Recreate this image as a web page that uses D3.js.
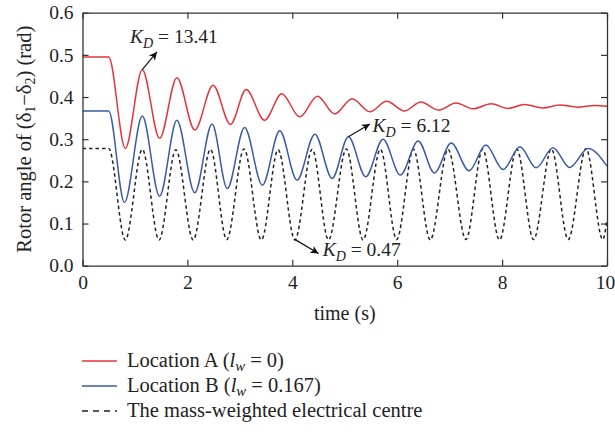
<!DOCTYPE html>
<html>
<head>
<meta charset="utf-8">
<script src="https://cdn.jsdelivr.net/npm/d3@7"></script>
<style>
  html, body { margin: 0; padding: 0; background: #fff; }
  svg { display: block; }
  text { font-family: "Liberation Serif", "Times New Roman", serif; fill: #222; }
</style>
</head>
<body>
<svg id="chart" width="615" height="432"></svg>
<script>
// ---------------- data ----------------
const xTicks = [0, 2, 4, 6, 8, 10];
const yTicks = [0.0, 0.1, 0.2, 0.3, 0.4, 0.5, 0.6];

const seriesNames = ["Location A", "Location B", "The mass-weighted electrical centre"];

const timeA = [0, 0.5, 0.816, 1.14, 1.47, 1.80, 2.14, 2.49, 2.82, 3.12, 3.47, 3.80, 4.14, 4.48, 4.81, 5.14, 5.48, 5.80, 6.14, 6.45, 6.79, 7.12, 7.45, 7.79, 8.11, 8.43, 8.78, 9.10, 9.44, 9.77, 10];
const valueA = [0.495, 0.495, 0.278, 0.465, 0.302, 0.446, 0.322, 0.428, 0.335, 0.418, 0.345, 0.408, 0.353, 0.402, 0.360, 0.396, 0.365, 0.390, 0.367, 0.388, 0.369, 0.386, 0.372, 0.384, 0.373, 0.382, 0.374, 0.381, 0.376, 0.380, 0.378];

const timeB = [0, 0.5, 0.80, 1.14, 1.47, 1.80, 2.14, 2.47, 2.76, 3.09, 3.43, 3.76, 4.09, 4.43, 4.76, 5.07, 5.40, 5.73, 6.06, 6.40, 6.71, 7.03, 7.37, 7.69, 8.02, 8.34, 8.65, 8.97, 9.29, 9.64, 10];
const valueB = [0.367, 0.367, 0.150, 0.355, 0.165, 0.345, 0.173, 0.336, 0.183, 0.328, 0.191, 0.320, 0.203, 0.312, 0.207, 0.306, 0.211, 0.300, 0.215, 0.296, 0.220, 0.291, 0.225, 0.286, 0.228, 0.282, 0.232, 0.280, 0.233, 0.278, 0.236];

const timeC = [0, 0.5, 0.816, 1.14, 1.46, 1.78, 2.11, 2.44, 2.75, 3.08, 3.41, 3.73, 4.05, 4.38, 4.69, 5.03, 5.35, 5.68, 5.99, 6.31, 6.63, 6.97, 7.31, 7.63, 7.95, 8.28, 8.60, 8.94, 9.26, 9.60, 9.92, 10];
const valueC = [0.278, 0.278, 0.061, 0.276, 0.061, 0.275, 0.061, 0.276, 0.062, 0.277, 0.061, 0.275, 0.061, 0.276, 0.061, 0.277, 0.061, 0.276, 0.062, 0.276, 0.061, 0.276, 0.062, 0.276, 0.061, 0.277, 0.062, 0.277, 0.062, 0.278, 0.062, 0.11];

// annotations: arrow start point, arrow tip, text anchor (data units)
const annoLabel = ["13.41", "6.12", "0.47"];
const annoFrom = [[1.14, 0.465], [5.07, 0.306], [4.04, 0.063]];
const annoTip  = [[1.42, 0.507], [5.48, 0.336], [4.50, 0.029]];
const annoText = [[0.906, 0.528], [5.53, 0.317], [4.58, 0.023]];

// ---------------- layout ----------------
const svg = d3.select("#chart");
const L = 82.5, R = 607, T = 12.7, B = 265.7;
const x = d3.scaleLinear().domain([0, 10]).range([L, R]);
const y = d3.scaleLinear().domain([0, 0.6]).range([B, T]);
const FS = 19.5;
const axisColor = "#333";
const colors = ["#e3363b", "#3b5ba5", "#222"];

// defs: arrow marker
svg.append("defs").append("marker")
  .attr("id", "arrow").attr("viewBox", "0 0 10 10")
  .attr("refX", 10).attr("refY", 5)
  .attr("markerWidth", 11).attr("markerHeight", 8)
  .attr("markerUnits", "userSpaceOnUse")
  .attr("orient", "auto")
  .append("path").attr("d", "M0,0 L10,5 L0,10 L2.5,5 Z").attr("fill", "#111");

// clip
svg.append("clipPath").attr("id", "clip").append("rect")
  .attr("x", L).attr("y", T).attr("width", R - L).attr("height", B - T);

// series
const line = d3.line().x(d => x(d[0])).y(d => y(d[1])).curve(d3.curveMonotoneX);
const series = [
  { t: timeA, v: valueA, color: colors[0], dash: null },
  { t: timeB, v: valueB, color: colors[1], dash: null },
  { t: timeC, v: valueC, color: colors[2], dash: "3.5,3" }
];
const gLines = svg.append("g").attr("clip-path", "url(#clip)");
series.slice().reverse().forEach(s => {
  gLines.append("path")
    .datum(s.t.map((t, i) => [t, s.v[i]]))
    .attr("d", line)
    .attr("fill", "none")
    .attr("stroke", s.color)
    .attr("stroke-width", 1.5)
    .attr("stroke-dasharray", s.dash);
});

// axes
function styleAxis(g) {
  g.select(".domain").attr("stroke", axisColor).attr("stroke-width", 1.3);
  g.selectAll(".tick line").attr("stroke", axisColor).attr("stroke-width", 1.2);
  g.selectAll(".tick text").attr("fill", "#222")
    .style("font-family", '"Liberation Serif", "Times New Roman", serif')
    .style("font-size", FS + "px");
}
const gx = svg.append("g").attr("transform", `translate(0,${B})`)
  .call(d3.axisBottom(x).tickValues(xTicks).tickFormat(d3.format("d"))
        .tickSizeInner(-6).tickSizeOuter(0).tickPadding(9))
  .call(styleAxis);
gx.selectAll(".tick text").filter(d => d === 10).attr("x", -2);
svg.append("g").attr("transform", `translate(${L},0)`)
  .call(d3.axisLeft(y).tickValues(yTicks).tickFormat(d3.format(".1f"))
        .tickSizeInner(-6).tickSizeOuter(0).tickPadding(9))
  .call(styleAxis);
svg.append("g").attr("transform", `translate(0,${T})`)
  .call(d3.axisTop(x).tickValues(xTicks).tickFormat("")
        .tickSizeInner(-6).tickSizeOuter(0))
  .call(styleAxis);
svg.append("g").attr("transform", `translate(${R},0)`)
  .call(d3.axisRight(y).tickValues(yTicks).tickFormat("")
        .tickSizeInner(-6).tickSizeOuter(0))
  .call(styleAxis);

// axis titles
svg.append("text")
  .attr("x", (L + R) / 2).attr("y", 320)
  .attr("text-anchor", "middle").style("font-size", "20px")
  .text("time (s)");

const YFS = 20.5;
const yl = svg.append("text")
  .attr("transform", `translate(31,${(T + B) / 2}) rotate(-90)`)
  .attr("text-anchor", "middle").style("font-size", YFS + "px");
yl.append("tspan").text("Rotor angle of (δ");
yl.append("tspan").attr("dy", 4).style("font-size", (YFS * 0.68) + "px").text("1");
yl.append("tspan").attr("dy", -4).text("−δ");
yl.append("tspan").attr("dy", 4).style("font-size", (YFS * 0.68) + "px").text("2");
yl.append("tspan").attr("dy", -4).text(") (rad)");

// annotations
annoLabel.forEach((lab, i) => {
  svg.append("line")
    .attr("x1", x(annoFrom[i][0])).attr("y1", y(annoFrom[i][1]))
    .attr("x2", x(annoTip[i][0])).attr("y2", y(annoTip[i][1]))
    .attr("stroke", "#111").attr("stroke-width", 1.2)
    .attr("marker-end", "url(#arrow)");
  const t = svg.append("text")
    .attr("x", x(annoText[i][0])).attr("y", y(annoText[i][1]))
    .style("font-size", FS + "px");
  t.append("tspan").style("font-style", "italic").text("K");
  t.append("tspan").attr("dy", 5).style("font-style", "italic")
    .style("font-size", (FS * 0.72) + "px").text("D");
  t.append("tspan").attr("dy", -5).text(" = " + lab);
});

// legend
const LFS = 20.5;
const legendY = [361, 386, 411];
const legendW = ["0", "0.167", null];
series.forEach((s, i) => {
  svg.append("line")
    .attr("x1", 82).attr("x2", 117)
    .attr("y1", legendY[i]).attr("y2", legendY[i])
    .attr("stroke", s.color).attr("stroke-width", 1.4)
    .attr("stroke-dasharray", i === 2 ? "6,5" : null);
  const t = svg.append("text").attr("x", 127).attr("y", legendY[i] + 5.5)
    .style("font-size", LFS + "px");
  if (legendW[i] !== null) {
    t.append("tspan").text(seriesNames[i] + " (");
    t.append("tspan").style("font-style", "italic").text("l");
    t.append("tspan").attr("dy", 4).style("font-style", "italic")
      .style("font-size", (LFS * 0.72) + "px").text("w");
    t.append("tspan").attr("dy", -4).text(" = " + legendW[i] + ")");
  } else {
    t.text(seriesNames[i]);
  }
});
</script>
</body>
</html>
